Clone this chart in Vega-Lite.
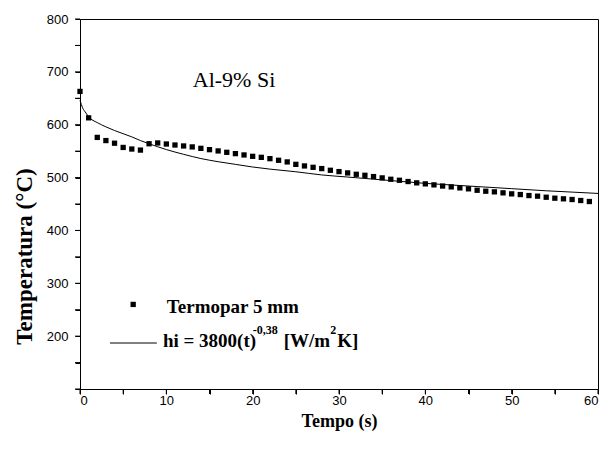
{
  "$schema": "https://vega.github.io/schema/vega-lite/v6.json",
  "width": 518,
  "height": 370,
  "autosize": "none",
  "padding": {"left": 80, "top": 19, "right": 10, "bottom": 61},
  "background": "white",
  "config": {
    "view": {"stroke": "black", "strokeWidth": 1},
    "axis": {
      "grid": false,
      "labelColor": "#000000",
      "labelFont": "Liberation Sans",
      "labelFontSize": 13,
      "titleFont": "Liberation Serif",
      "titleFontWeight": "bold",
      "titleFontSize": 18,
      "titleColor": "#000000"
    }
  },
  "datasets": {
    "pts": [
      {"t": 0, "T": 663}, {"t": 1, "T": 613}, {"t": 2, "T": 576}, {"t": 3, "T": 570},
      {"t": 4, "T": 565}, {"t": 5, "T": 557}, {"t": 6, "T": 554}, {"t": 7, "T": 552},
      {"t": 8, "T": 564}, {"t": 9, "T": 565.5}, {"t": 10, "T": 563.5}, {"t": 11, "T": 561.6},
      {"t": 12, "T": 559.8}, {"t": 13, "T": 558}, {"t": 14, "T": 555.3}, {"t": 15, "T": 552.8},
      {"t": 16, "T": 550.4}, {"t": 17, "T": 547.8}, {"t": 18, "T": 545.3}, {"t": 19, "T": 542.8},
      {"t": 20, "T": 540.2}, {"t": 21, "T": 538.3}, {"t": 22, "T": 535.8}, {"t": 23, "T": 532.7},
      {"t": 24, "T": 529.6}, {"t": 25, "T": 525}, {"t": 26, "T": 522}, {"t": 27, "T": 519.4},
      {"t": 28, "T": 517}, {"t": 29, "T": 513.8}, {"t": 30, "T": 511.3}, {"t": 31, "T": 508.8},
      {"t": 32, "T": 506.2}, {"t": 33, "T": 504.3}, {"t": 34, "T": 501.9}, {"t": 35, "T": 499.4},
      {"t": 36, "T": 496.8}, {"t": 37, "T": 494.9}, {"t": 38, "T": 492.5}, {"t": 39, "T": 490},
      {"t": 40, "T": 488.1}, {"t": 41, "T": 486.2}, {"t": 42, "T": 484}, {"t": 43, "T": 482.4},
      {"t": 44, "T": 480.5}, {"t": 45, "T": 478.7}, {"t": 46, "T": 476}, {"t": 47, "T": 474.2},
      {"t": 48, "T": 473}, {"t": 49, "T": 471.1}, {"t": 50, "T": 469.2}, {"t": 51, "T": 467.9},
      {"t": 52, "T": 466}, {"t": 53, "T": 464.8}, {"t": 54, "T": 462.8}, {"t": 55, "T": 461},
      {"t": 56, "T": 459.8}, {"t": 57, "T": 458.5}, {"t": 58, "T": 456.6}, {"t": 59, "T": 454.7}
    ],
    "fit": [
      {"t": 0, "T": 646}, {"t": 0.3, "T": 632}, {"t": 0.7, "T": 622}, {"t": 1, "T": 615},
      {"t": 2, "T": 604}, {"t": 3, "T": 596}, {"t": 4, "T": 589}, {"t": 5, "T": 583},
      {"t": 6, "T": 577}, {"t": 7, "T": 570}, {"t": 8, "T": 564}, {"t": 10, "T": 553},
      {"t": 12, "T": 544}, {"t": 14, "T": 536}, {"t": 16, "T": 530}, {"t": 18, "T": 525},
      {"t": 20, "T": 520}, {"t": 22, "T": 516}, {"t": 25, "T": 511}, {"t": 28, "T": 505},
      {"t": 31, "T": 501}, {"t": 34, "T": 497}, {"t": 37, "T": 493}, {"t": 40, "T": 489},
      {"t": 43, "T": 486}, {"t": 46, "T": 483}, {"t": 50, "T": 479}, {"t": 54, "T": 475},
      {"t": 57, "T": 472.5}, {"t": 60, "T": 470}
    ],
    "xticks": [
      {"t": 0}, {"t": 5}, {"t": 10}, {"t": 15}, {"t": 20}, {"t": 25}, {"t": 30},
      {"t": 35}, {"t": 40}, {"t": 45}, {"t": 50}, {"t": 55}, {"t": 60}
    ],
    "yticks": [
      {"T": 100}, {"T": 150}, {"T": 200}, {"T": 250}, {"T": 300}, {"T": 350}, {"T": 400}, {"T": 450},
      {"T": 500}, {"T": 550}, {"T": 600}, {"T": 650}, {"T": 700}, {"T": 750}, {"T": 800}
    ],
    "legSym": [{"t": 6.16, "T": 260}],
    "legLine": [{"t": 3.47, "t2": 8.9, "T": 187}],
    "legText": [
      {"t": 10.06, "T": 244.7, "label": "Termopar 5 mm"},
      {"t": 9.6, "T": 178.7, "label": "hi = 3800(t)"},
      {"t": 23.6, "T": 178.7, "label": "[W/m"},
      {"t": 29.8, "T": 178.7, "label": "K]"}
    ],
    "legSup": [
      {"t": 20.0, "T": 205, "label": "-0,38"},
      {"t": 29.0, "T": 205, "label": "2"}
    ],
    "alloy": [{"t": 13.06, "T": 672, "label": "Al-9% Si"}]
  },
  "layer": [
    {
      "data": {"name": "fit"},
      "mark": {"type": "line", "color": "black", "strokeWidth": 1, "interpolate": "monotone"},
      "encoding": {
        "x": {
          "field": "t", "type": "quantitative",
          "scale": {"domain": [0, 60], "nice": false},
          "axis": {
            "title": "Tempo (s)",
            "tickSize": 5,
            "tickWidth": 1,
            "tickColor": "black",
            "domainColor": "black",
            "domainWidth": 1,
            "tickCount": 12,
            "labelExpr": "datum.value % 10 == 0 ? datum.label : ''",
            "labelPadding": 0,
            "titlePadding": 5
          }
        },
        "y": {
          "field": "T", "type": "quantitative",
          "scale": {"domain": [100, 800], "nice": false, "zero": false},
          "axis": {
            "title": "Temperatura (°C)",
            "tickSize": 5,
            "tickWidth": 1,
            "tickColor": "black",
            "domainColor": "black",
            "domainWidth": 1,
            "tickCount": 14,
            "titleFontSize": 23,
            "titleX": -56,
            "titleY": 237,
            "titleAngle": -90,
            "titleAlign": "center",
            "titleBaseline": "middle",
            "labelExpr": "datum.value % 100 == 0 && datum.value > 100 ? datum.label : ''",
            "labelPadding": 7
          }
        }
      }
    },
    {
      "data": {"name": "xticks"},
      "mark": {"type": "rule", "color": "black", "strokeWidth": 1},
      "encoding": {
        "x": {"field": "t", "type": "quantitative"},
        "y": {"datum": 100, "type": "quantitative"},
        "y2": {"datum": 90.54}
      }
    },
    {
      "data": {"name": "yticks"},
      "mark": {"type": "rule", "color": "black", "strokeWidth": 1},
      "encoding": {
        "y": {"field": "T", "type": "quantitative"},
        "x": {"datum": -0.579, "type": "quantitative"},
        "x2": {"datum": 0}
      }
    },
    {
      "data": {"name": "pts"},
      "mark": {"type": "point", "shape": "square", "filled": true, "color": "black", "size": 28, "opacity": 1},
      "encoding": {
        "x": {"field": "t", "type": "quantitative"},
        "y": {"field": "T", "type": "quantitative"}
      }
    },
    {
      "data": {"name": "legSym"},
      "mark": {"type": "point", "shape": "square", "filled": true, "color": "black", "size": 28, "opacity": 1},
      "encoding": {
        "x": {"field": "t", "type": "quantitative"},
        "y": {"field": "T", "type": "quantitative"}
      }
    },
    {
      "data": {"name": "legLine"},
      "mark": {"type": "rule", "color": "black", "strokeWidth": 1},
      "encoding": {
        "x": {"field": "t", "type": "quantitative"},
        "x2": {"field": "t2"},
        "y": {"field": "T", "type": "quantitative"}
      }
    },
    {
      "data": {"name": "legText"},
      "mark": {"type": "text", "font": "Liberation Serif", "fontWeight": "bold", "fontSize": 19, "align": "left", "baseline": "alphabetic", "color": "black"},
      "encoding": {
        "x": {"field": "t", "type": "quantitative"},
        "y": {"field": "T", "type": "quantitative"},
        "text": {"field": "label"}
      }
    },
    {
      "data": {"name": "legSup"},
      "mark": {"type": "text", "font": "Liberation Serif", "fontWeight": "bold", "fontSize": 12, "align": "left", "baseline": "alphabetic", "color": "black"},
      "encoding": {
        "x": {"field": "t", "type": "quantitative"},
        "y": {"field": "T", "type": "quantitative"},
        "text": {"field": "label"}
      }
    },
    {
      "data": {"name": "alloy"},
      "mark": {"type": "text", "font": "Liberation Serif", "fontSize": 22, "align": "left", "baseline": "alphabetic", "color": "black"},
      "encoding": {
        "x": {"field": "t", "type": "quantitative"},
        "y": {"field": "T", "type": "quantitative"},
        "text": {"field": "label"}
      }
    }
  ]
}
